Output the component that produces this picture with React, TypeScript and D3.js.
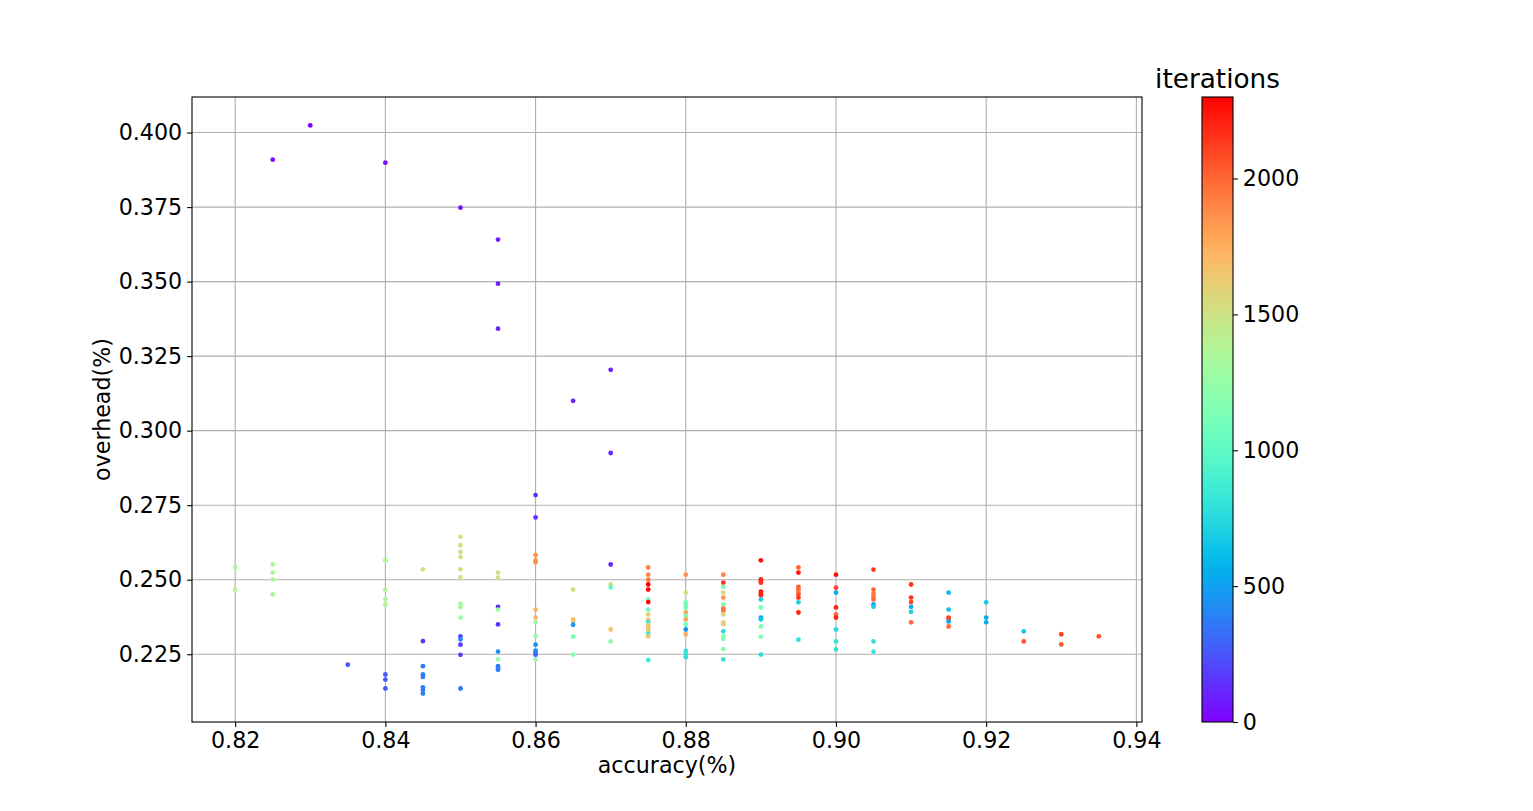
import React, { useEffect, useRef } from "react";
import * as d3 from "d3";

// one entry per point: accuracy, overhead, iterations
const accuracy = [
  0.82, 0.82,
  0.825, 0.825, 0.825, 0.825, 0.825,
  0.83,
  0.835,
  0.84, 0.84, 0.84, 0.84, 0.84, 0.84, 0.84, 0.84,
  0.845, 0.845, 0.845, 0.845, 0.845, 0.845, 0.845, 0.845,
  0.85, 0.85, 0.85, 0.85, 0.85, 0.85, 0.85, 0.85, 0.85, 0.85, 0.85, 0.85, 0.85, 0.85, 0.85,
  0.855, 0.855, 0.855, 0.855, 0.855, 0.855, 0.855, 0.855, 0.855, 0.855, 0.855, 0.855, 0.855,
  0.86, 0.86, 0.86, 0.86, 0.86, 0.86, 0.86, 0.86, 0.86, 0.86, 0.86, 0.86, 0.86, 0.86,
  0.865, 0.865, 0.865, 0.865, 0.865, 0.865, 0.865,
  0.87, 0.87, 0.87, 0.87, 0.87, 0.87, 0.87,
  0.875, 0.875, 0.875, 0.875, 0.875, 0.875, 0.875, 0.875, 0.875, 0.875, 0.875, 0.875, 0.875, 0.875, 0.875, 0.875, 0.875,
  0.88, 0.88, 0.88, 0.88, 0.88, 0.88, 0.88, 0.88, 0.88, 0.88, 0.88, 0.88, 0.88, 0.88,
  0.885, 0.885, 0.885, 0.885, 0.885, 0.885, 0.885, 0.885, 0.885, 0.885, 0.885, 0.885, 0.885, 0.885, 0.885, 0.885,
  0.89, 0.89, 0.89, 0.89, 0.89, 0.89, 0.89, 0.89, 0.89, 0.89, 0.89, 0.89, 0.89, 0.89,
  0.895, 0.895, 0.895, 0.895, 0.895, 0.895, 0.895, 0.895, 0.895, 0.895,
  0.9, 0.9, 0.9, 0.9, 0.9, 0.9, 0.9, 0.9, 0.9,
  0.905, 0.905, 0.905, 0.905, 0.905, 0.905, 0.905, 0.905, 0.905,
  0.91, 0.91, 0.91, 0.91, 0.91, 0.91,
  0.915, 0.915, 0.915, 0.915, 0.915, 0.915,
  0.92, 0.92, 0.92,
  0.925, 0.925,
  0.93, 0.93,
  0.935,
];

const overhead = [
  0.2541, 0.2467,
  0.3909, 0.2551, 0.2524, 0.2501, 0.2451,
  0.4024,
  0.2215,
  0.3899, 0.2565, 0.2467, 0.2434, 0.2417, 0.2182, 0.2165, 0.2135,
  0.2535, 0.2294, 0.221, 0.2182, 0.2174, 0.2139, 0.213, 0.2118,
  0.3748, 0.2644, 0.2616, 0.2593, 0.2576, 0.2535, 0.2508, 0.2419, 0.2408, 0.2373, 0.231, 0.23, 0.2282, 0.2248, 0.2135,
  0.3641, 0.3493, 0.3342, 0.2524, 0.2507, 0.2409, 0.24, 0.235, 0.2259, 0.2233, 0.221, 0.2202, 0.2198,
  0.2784, 0.2709, 0.2582, 0.2565, 0.2558, 0.24, 0.2373, 0.2358, 0.231, 0.2282, 0.2262, 0.2256, 0.2248, 0.2233,
  0.31, 0.2467, 0.2367, 0.236, 0.2349, 0.2309, 0.2249,
  0.3204, 0.2925, 0.2551, 0.2484, 0.2474, 0.2333, 0.2293,
  0.2541, 0.2517, 0.25, 0.2484, 0.2467, 0.2434, 0.2425, 0.24, 0.2383, 0.2364, 0.2358, 0.2347, 0.2338, 0.233, 0.2319, 0.231, 0.2231,
  0.2517, 0.2457, 0.2424, 0.2415, 0.2406, 0.239, 0.2379, 0.2367, 0.235, 0.2333, 0.2317, 0.2261, 0.2251, 0.224,
  0.2517, 0.249, 0.2476, 0.2457, 0.244, 0.2417, 0.2403, 0.2395, 0.2384, 0.2357, 0.2351, 0.2327, 0.231, 0.2301, 0.2267, 0.2233,
  0.2565, 0.2501, 0.2495, 0.249, 0.246, 0.2454, 0.2448, 0.2434, 0.2407, 0.2373, 0.2367, 0.2343, 0.2309, 0.2249,
  0.2541, 0.2524, 0.2476, 0.2468, 0.2459, 0.2451, 0.244, 0.2424, 0.239, 0.2299,
  0.2517, 0.2473, 0.2457, 0.2407, 0.2384, 0.2373, 0.2333, 0.2293, 0.2266,
  0.2534, 0.2467, 0.2454, 0.2443, 0.2434, 0.2417, 0.2409, 0.2293, 0.2259,
  0.2484, 0.244, 0.2425, 0.2409, 0.2392, 0.2357,
  0.2457, 0.24, 0.2373, 0.2369, 0.236, 0.2343,
  0.2424, 0.2373, 0.2357,
  0.2327, 0.2293,
  0.2317, 0.2283,
  0.231,
];

const iterations = [
  1350, 1350,
  40, 1350, 1350, 1350, 1350,
  0,
  250,
  40, 1380, 1380, 1380, 1380, 260, 260, 250,
  1500, 170, 380, 380, 380, 380, 380, 380,
  60, 1500, 1500, 1500, 1500, 1500, 1500, 1300, 1300, 1300, 200, 400, 150, 150, 350,
  80, 90, 100, 1500, 1500, 110, 1300, 130, 430, 1250, 380, 380, 380,
  120, 130, 1850, 1850, 1850, 1750, 1700, 1250, 1200, 450, 450, 420, 300, 1250,
  90, 1550, 1650, 1650, 450, 1150, 1150,
  80, 100, 120, 1550, 1000, 1650, 1200,
  1900, 1900, 1950, 2300, 2300, 1100, 2280, 1100, 1650, 1700, 850, 1650, 1650, 1650, 850, 1650, 850,
  1850, 1500, 1100, 1100, 1100, 1800, 1100, 1800, 1050, 450, 1750, 800, 800, 800,
  1900, 2150, 1100, 1550, 1850, 1150, 1950, 1950, 1550, 1600, 1600, 750, 1150, 1150, 1150, 800,
  2250, 2200, 2200, 2150, 2250, 2200, 2200, 700, 1100, 500, 650, 1150, 1150, 750,
  2000, 2250, 2050, 2000, 1950, 2050, 2150, 700, 2200, 800,
  2250, 2100, 550, 2200, 2000, 2200, 750, 800, 800,
  2150, 2000, 1950, 1950, 2000, 500, 700, 800, 800,
  2150, 2150, 2100, 550, 700, 2000,
  600, 650, 2150, 2100, 500, 2000,
  650, 550, 550,
  650, 2050,
  2100, 2050,
  2050,
];

const xTicks = [0.82, 0.84, 0.86, 0.88, 0.9, 0.92, 0.94];
const yTicks = [0.225, 0.25, 0.275, 0.3, 0.325, 0.35, 0.375, 0.4];
const cbarTicks = [0, 500, 1000, 1500, 2000];

// matplotlib "rainbow" colormap
function rainbow(t: number) {
  const c = (v: number) => Math.round(255 * Math.max(0, Math.min(1, v)));
  const r = Math.abs(2 * t - 0.5);
  const g = Math.sin(Math.PI * t);
  const b = Math.cos((Math.PI * t) / 2);
  return `rgb(${c(r)},${c(g)},${c(b)})`;
}

const W = 1533, H = 811;
const FONT = "DejaVu Sans";
const FS = 22.2;

export default function App() {
  const ref = useRef<SVGSVGElement>(null);

  useEffect(() => {
    document.body.style.margin = "0";
    const svg = d3.select(ref.current);
    svg.selectAll("*").remove();

    const left = 192, right = 1142, top = 97, bottom = 722;

    const pad = (ext: [number, number]) => {
      const m = (ext[1] - ext[0]) * 0.05;
      return [ext[0] - m, ext[1] + m];
    };
    const x = d3.scaleLinear().domain(pad(d3.extent(accuracy) as [number, number])).range([left, right]);
    const y = d3.scaleLinear().domain(pad(d3.extent(overhead) as [number, number])).range([bottom, top]);
    const iterExt = d3.extent(iterations) as [number, number];
    const cnorm = d3.scaleLinear().domain(iterExt).range([0, 1]).clamp(true);

    const g = svg.append("g");

    // grid
    g.selectAll(".gx").data(xTicks).join("line")
      .attr("x1", d => x(d)).attr("x2", d => x(d))
      .attr("y1", top).attr("y2", bottom)
      .attr("stroke", "#b0b0b0").attr("stroke-width", 1.1);
    g.selectAll(".gy").data(yTicks).join("line")
      .attr("y1", d => y(d)).attr("y2", d => y(d))
      .attr("x1", left).attr("x2", right)
      .attr("stroke", "#b0b0b0").attr("stroke-width", 1.1);

    // points
    const pts = accuracy.map((a, i) => ({ a, o: overhead[i], it: iterations[i] }));
    g.selectAll("circle").data(pts).join("circle")
      .attr("cx", d => x(d.a))
      .attr("cy", d => y(d.o))
      .attr("r", 2.4)
      .attr("fill", d => rainbow(cnorm(d.it)));

    // axes
    const xAxis = d3.axisBottom(x).tickValues(xTicks).tickFormat(d3.format(".2f")).tickSizeOuter(0).tickSize(4.9).tickPadding(4.9);
    const yAxis = d3.axisLeft(y).tickValues(yTicks).tickFormat(d3.format(".3f")).tickSizeOuter(0).tickSize(4.9).tickPadding(4.9);
    const gx = g.append("g").attr("transform", `translate(0,${bottom})`).call(xAxis);
    const gy = g.append("g").attr("transform", `translate(${left},0)`).call(yAxis);
    [gx, gy].forEach(a => {
      a.select(".domain").remove();
      a.selectAll("text").attr("font-family", FONT).attr("font-size", FS).attr("fill", "#000");
      a.selectAll("line").attr("stroke", "#000").attr("stroke-width", 1.1);
    });

    g.append("rect")
      .attr("x", left).attr("y", top)
      .attr("width", right - left).attr("height", bottom - top)
      .attr("fill", "none").attr("stroke", "#000").attr("stroke-width", 1.1);

    g.append("text")
      .attr("x", (left + right) / 2).attr("y", 773)
      .attr("text-anchor", "middle")
      .attr("font-family", FONT).attr("font-size", FS)
      .text("accuracy(%)");
    g.append("text")
      .attr("transform", `translate(110,${(top + bottom) / 2}) rotate(-90)`)
      .attr("text-anchor", "middle")
      .attr("font-family", FONT).attr("font-size", FS)
      .text("overhead(%)");

    // colorbar
    const cbL = 1202, cbR = 1233;
    const grad = svg.append("defs").append("linearGradient")
      .attr("id", "cbar").attr("x1", 0).attr("y1", 1).attr("x2", 0).attr("y2", 0);
    d3.range(0, 1.0001, 0.02).forEach(t => {
      grad.append("stop").attr("offset", t).attr("stop-color", rainbow(t));
    });
    g.append("rect")
      .attr("x", cbL).attr("y", top)
      .attr("width", cbR - cbL).attr("height", bottom - top)
      .attr("fill", "url(#cbar)")
      .attr("stroke", "#000").attr("stroke-width", 1.1);

    const cy = d3.scaleLinear().domain(iterExt).range([bottom, top]);
    const cAxis = d3.axisRight(cy).tickValues(cbarTicks).tickFormat(d3.format("d")).tickSizeOuter(0).tickSize(4.9).tickPadding(4.9);
    const gc = g.append("g").attr("transform", `translate(${cbR},0)`).call(cAxis);
    gc.select(".domain").remove();
    gc.selectAll("text").attr("font-family", FONT).attr("font-size", FS).attr("fill", "#000");
    gc.selectAll("line").attr("stroke", "#000").attr("stroke-width", 1.1);

    g.append("text")
      .attr("x", (cbL + cbR) / 2).attr("y", 88)
      .attr("text-anchor", "middle")
      .attr("font-family", FONT).attr("font-size", 26.3)
      .text("iterations");
  }, []);

  return <svg ref={ref} width={W} height={H} style={{ display: "block", background: "#fff" }} />;
}
